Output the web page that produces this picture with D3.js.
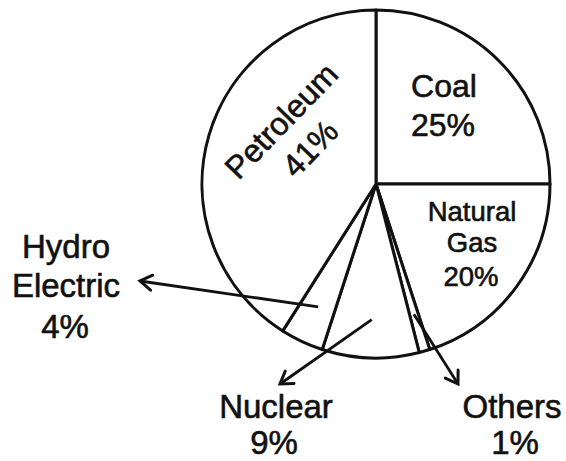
<!DOCTYPE html>
<html>
<head>
<meta charset="utf-8">
<script src="https://cdn.jsdelivr.net/npm/d3@7"></script>
<style>
  html, body { margin: 0; padding: 0; background: #ffffff; }
  svg { display: block; }
  text { font-family: "Liberation Sans", Arial, Helvetica, sans-serif; fill: #111; stroke: #111; stroke-width: 0.6px; }
</style>
</head>
<body>
<svg id="chart" width="566" height="461"></svg>
<script>
// ---- data ----
const categories = ["Coal", "Natural Gas", "Others", "Nuclear", "Hydro Electric", "Petroleum"];
const shares = [25, 20, 1, 9, 4, 41];
const labelLines = [["Coal"], ["Natural", "Gas"], ["Others"], ["Nuclear"], ["Hydro", "Electric"], ["Petroleum"]];

// ---- layout ----
const W = 566, H = 461;
const cx = 376, cy = 184, R = 174;
const svg = d3.select("#chart");
svg.append("rect").attr("width", W).attr("height", H).attr("fill", "#ffffff");

const data = categories.map((c, i) => ({ name: c, value: shares[i], lines: labelLines[i] }));
const pie = d3.pie().value(d => d.value).sort(null).startAngle(0).endAngle(2 * Math.PI);
const arcs = pie(data);
const arc = d3.arc().innerRadius(0).outerRadius(R);
const inner = d3.arc().innerRadius(R * 0.78).outerRadius(R * 0.78);

const g = svg.append("g").attr("transform", `translate(${cx},${cy})`);
g.selectAll("path.slice").data(arcs).join("path")
  .attr("class", "slice")
  .attr("d", arc)
  .attr("fill", "#ffffff")
  .attr("stroke", "#111")
  .attr("stroke-width", 3)
  .attr("stroke-linejoin", "round");

// label placement (layout only)
const layout = {
  "Coal":           { x: [444, 443], y: [97, 136], size: 32 },
  "Natural Gas":    { x: [472, 472, 471], y: [221, 252, 286], size: 27.5 },
  "Hydro Electric": { x: [66, 66, 65], y: [258, 297, 338], size: 33, tip: [140, 281] },
  "Nuclear":        { x: [276, 274], y: [418, 454], size: 33, tip: [280, 384] },
  "Others":         { x: [512, 515], y: [418, 454], size: 33, tip: [458, 384] }
};

arcs.forEach(a => {
  const d = a.data;
  const pct = d.value + "%";
  if (d.name === "Petroleum") {
    const pg = svg.append("g").attr("transform", "translate(295,134) rotate(-46)");
    pg.append("text").attr("text-anchor", "middle").attr("y", -8).attr("font-size", 32).text(d.lines[0]);
    pg.append("text").attr("text-anchor", "middle").attr("y", 32).attr("font-size", 32).text(pct);
    return;
  }
  const L = layout[d.name];
  const lines = d.lines.concat([pct]);
  lines.forEach((t, i) => {
    svg.append("text").attr("x", L.x[i]).attr("y", L.y[i])
      .attr("text-anchor", "middle").attr("font-size", L.size).text(t);
  });
  if (L.tip) {
    const [sx, sy] = inner.centroid(a);
    const x0 = cx + sx, y0 = cy + sy;
    const [x1, y1] = L.tip;
    svg.append("line").attr("x1", x0).attr("y1", y0).attr("x2", x1).attr("y2", y1)
      .attr("stroke", "#111").attr("stroke-width", 2.8);
    const ang = Math.atan2(y1 - y0, x1 - x0);
    const hl = 14, spread = Math.PI / 5.5;
    const head = [
      [x1 - hl * Math.cos(ang - spread), y1 - hl * Math.sin(ang - spread)],
      [x1, y1],
      [x1 - hl * Math.cos(ang + spread), y1 - hl * Math.sin(ang + spread)]
    ];
    svg.append("path").attr("d", d3.line()(head))
      .attr("fill", "none").attr("stroke", "#111").attr("stroke-width", 3)
      .attr("stroke-linejoin", "miter").attr("stroke-linecap", "round");
  }
});
</script>
</body>
</html>
